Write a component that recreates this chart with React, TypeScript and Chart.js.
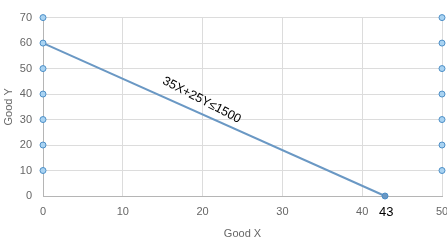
import React, { useEffect, useRef } from "react";
import { Chart, registerables } from "chart.js";
Chart.register(...registerables);

const constraintLineX = [0, 42.86];
const constraintLineY = [60, 0];
const leftAxisPointsY = [10, 20, 30, 40, 50, 70];
const rightAxisPointsY = [10, 20, 30, 40, 50, 60, 70];
const rightAxisX = 50;
const interceptLabel = "43";
const interceptX = 43;
const equationLabel = "35X+25Y≤1500";
const xTitle = "Good X";
const yTitle = "Good Y";

export default function App() {
  const ref = useRef<HTMLCanvasElement>(null);
  useEffect(() => {
    document.body.style.margin = "0";
    const labelsPlugin = {
      id: "labels",
      afterDraw(chart: any) {
        const ctx = chart.ctx;
        const xs = chart.scales.x;
        const ys = chart.scales.y;
        ctx.save();
        ctx.fillStyle = "#000";
        ctx.font = "13px 'Liberation Sans', Arial, sans-serif";
        ctx.textAlign = "center";
        ctx.textBaseline = "middle";
        ctx.fillText(interceptLabel, xs.getPixelForValue(interceptX), ys.bottom + 16);
        const p0x = xs.getPixelForValue(constraintLineX[0]);
        const p0y = ys.getPixelForValue(constraintLineY[0]);
        const p1x = xs.getPixelForValue(constraintLineX[1]);
        const p1y = ys.getPixelForValue(constraintLineY[1]);
        const ang = Math.atan2(p1y - p0y, p1x - p0x);
        const cx = xs.getPixelForValue(19.9);
        const cy = ys.getPixelForValue(37.6);
        ctx.font = "12.5px 'Liberation Sans', Arial, sans-serif";
        ctx.translate(cx, cy);
        ctx.rotate(ang + 0.06);
        ctx.fillText(equationLabel, 0, 0);
        ctx.restore();
      },
    };
    const pointStyle = {
      pointRadius: 3,
      pointBorderWidth: 1,
      pointBackgroundColor: "#a9d3f2",
      pointBorderColor: "#4d8fc7",
    };
    const chart = new Chart(ref.current!, {
      type: "scatter",
      data: {
        datasets: [
          {
            data: constraintLineX.map((x, i) => ({ x, y: constraintLineY[i] })),
            showLine: true,
            borderColor: "#6a98c4",
            borderWidth: 2,
            pointRadius: 3,
            pointBorderWidth: 1,
            pointBackgroundColor: ["#a9d3f2", "#6a98c4"],
            pointBorderColor: "#4d8fc7",
            clip: false as any,
          },
          {
            data: leftAxisPointsY.map((y) => ({ x: 0, y })),
            ...pointStyle,
            clip: false as any,
          },
          {
            data: rightAxisPointsY.map((y) => ({ x: rightAxisX, y })),
            ...pointStyle,
            clip: false as any,
          },
        ],
      },
      options: {
        responsive: false,
        animation: false,
        layout: { padding: { top: 17, right: 5, left: 0, bottom: 0 } },
        plugins: { legend: { display: false }, tooltip: { enabled: false } },
        scales: {
          x: {
            type: "linear",
            min: 0,
            max: 50,
            ticks: {
              stepSize: 10,
              color: "#666",
              font: { family: "'Liberation Sans', Arial, sans-serif", size: 11 },
              padding: 9,
            },
            grid: { color: "#dcdcdc", drawTicks: false },
            border: { color: "#b5b5b5" },
            title: {
              display: true,
              text: xTitle,
              color: "#666",
              font: { family: "'Liberation Sans', Arial, sans-serif", size: 11 },
              padding: { top: 2, bottom: 3 },
            },
            afterFit(s: any) {
              s.height = 48;
              s.paddingRight = 0;
              s.paddingLeft = 0;
            },
          },
          y: {
            type: "linear",
            min: 0,
            max: 70,
            ticks: {
              stepSize: 10,
              color: "#666",
              font: { family: "'Liberation Sans', Arial, sans-serif", size: 11 },
              padding: 11,
            },
            grid: { color: "#dcdcdc", drawTicks: false },
            border: { color: "#b5b5b5" },
            title: {
              display: true,
              text: yTitle,
              color: "#666",
              font: { family: "'Liberation Sans', Arial, sans-serif", size: 11 },
              padding: { top: 2, bottom: 0 },
            },
            afterFit(s: any) {
              s.width = 43;
            },
          },
        },
      },
      plugins: [labelsPlugin],
    });
    return () => chart.destroy();
  }, []);
  return <canvas ref={ref} width={447} height={244} style={{ display: "block" }} />;
}
